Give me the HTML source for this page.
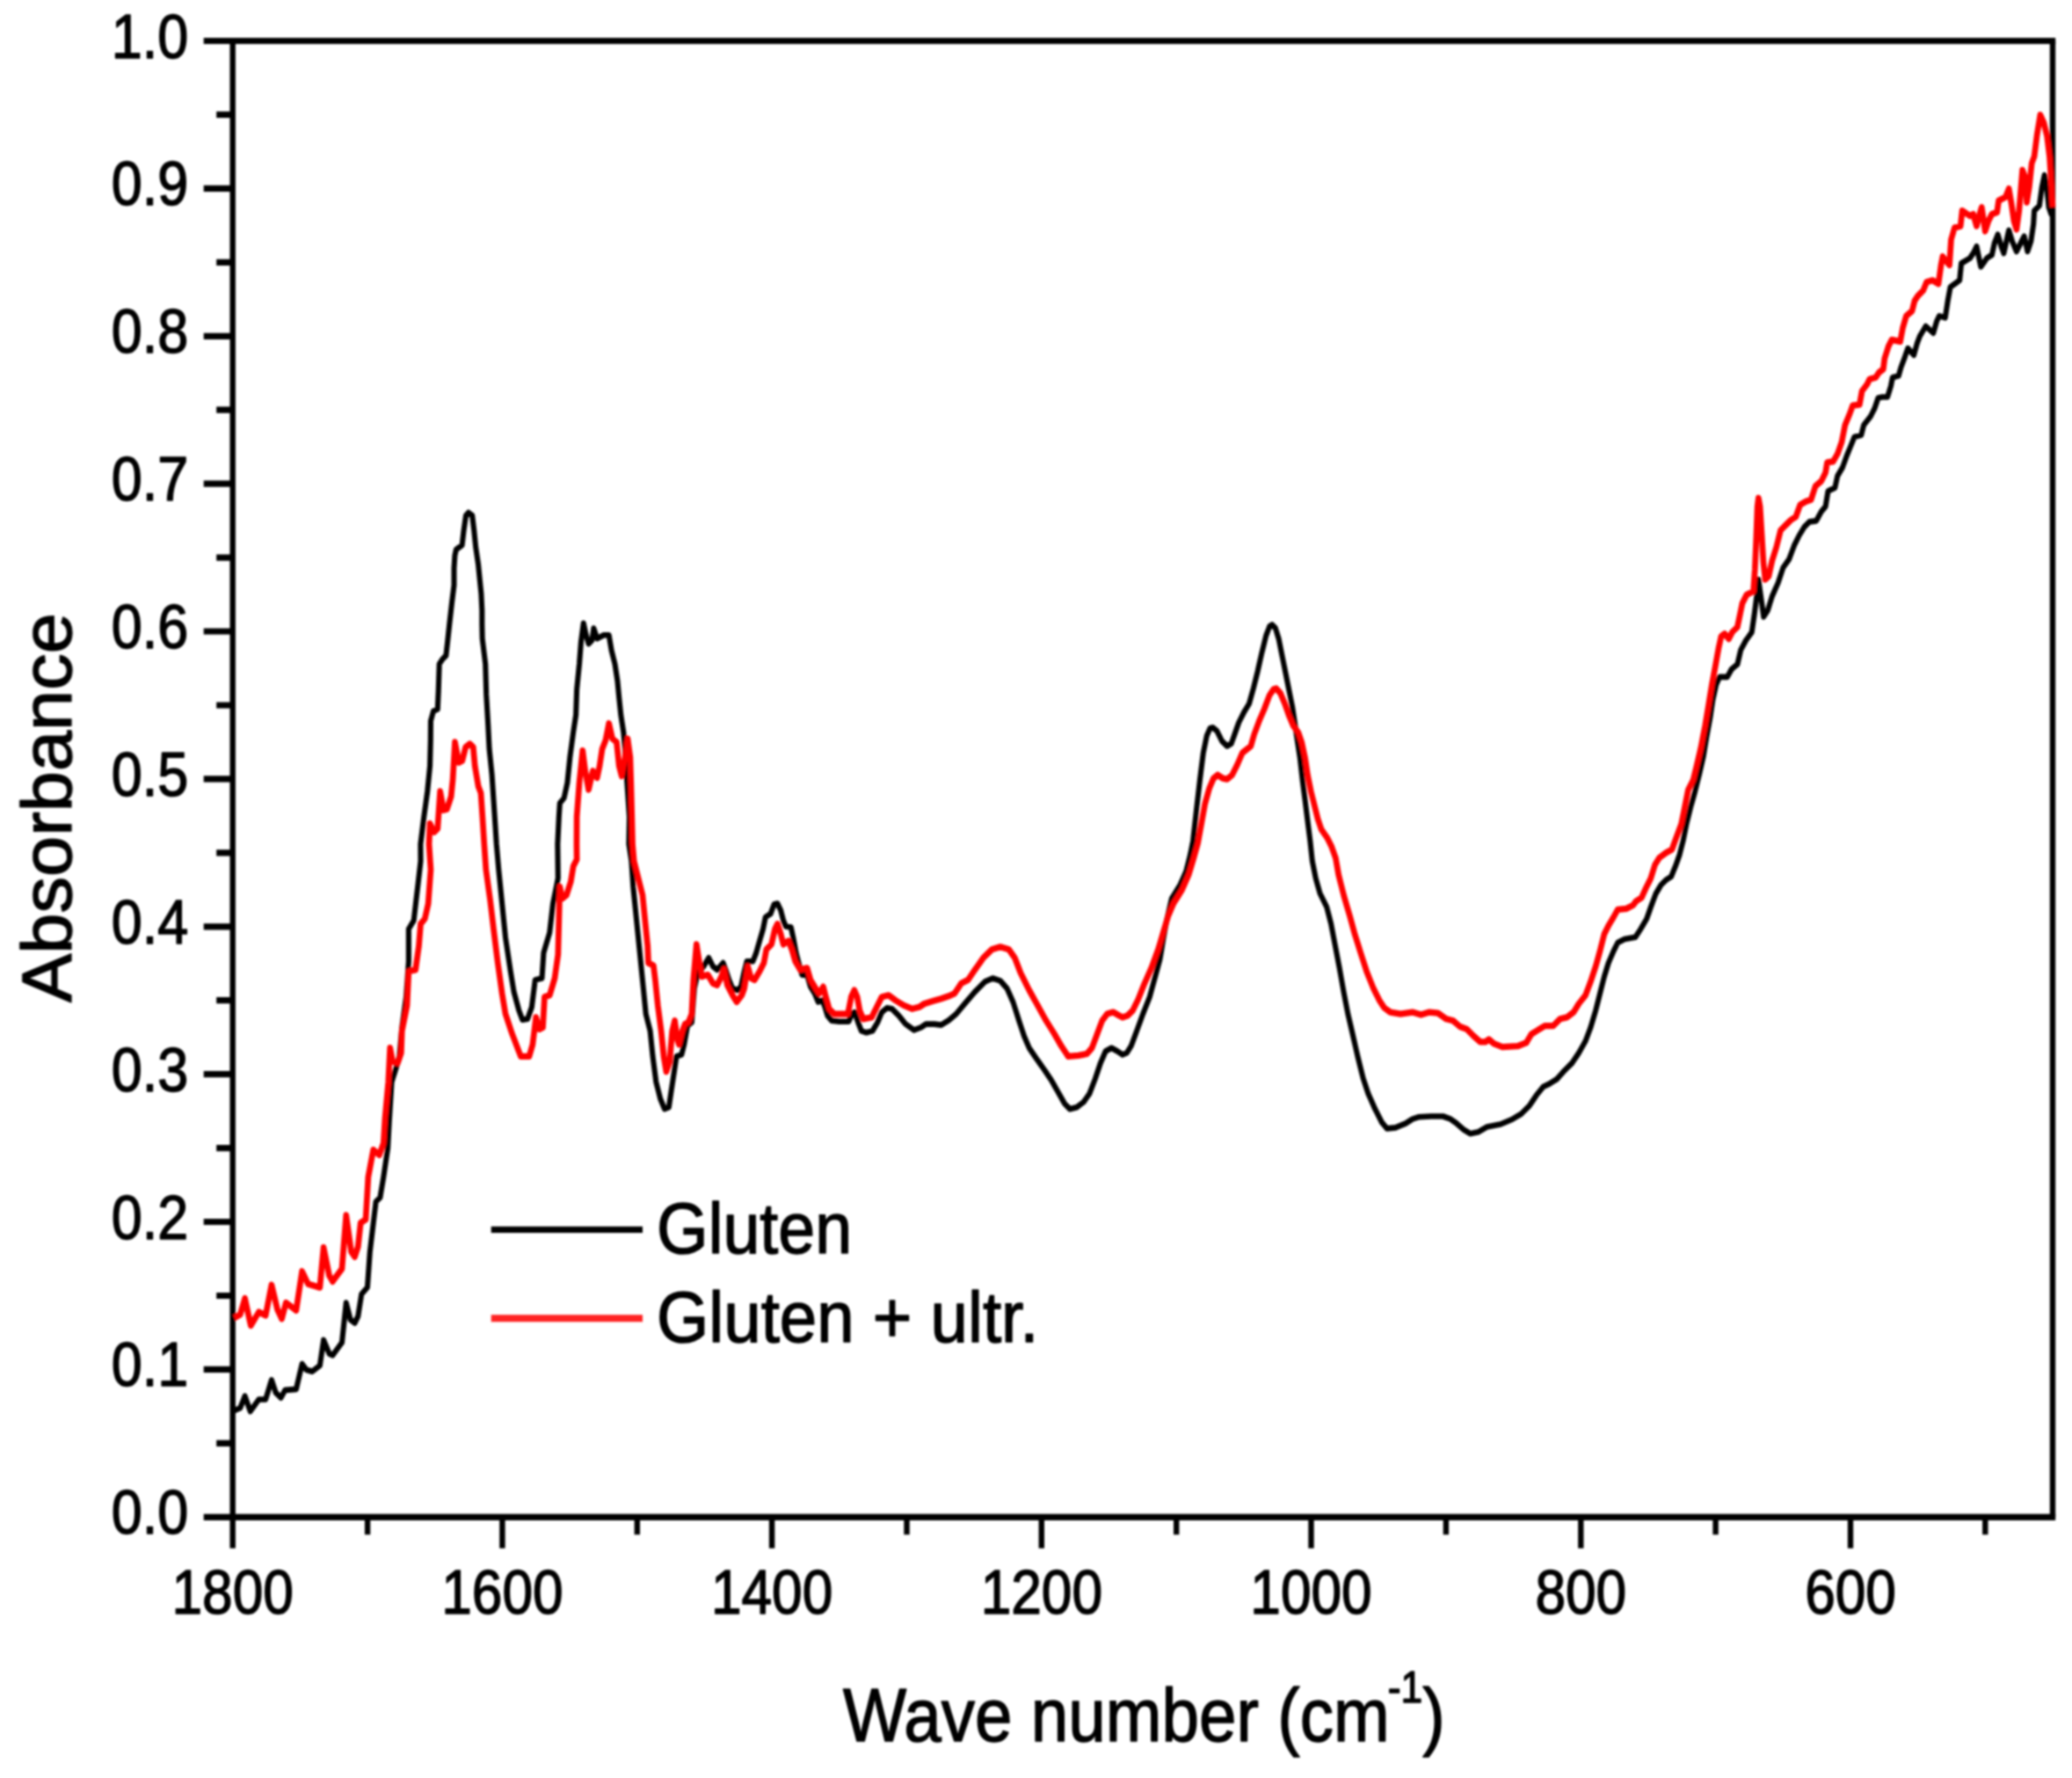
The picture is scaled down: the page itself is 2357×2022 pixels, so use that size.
<!DOCTYPE html>
<html><head><meta charset="utf-8"><title>FTIR absorbance spectra</title>
<style>
html,body{margin:0;padding:0;background:#fff;}
svg{display:block;}
text{font-family:"Liberation Sans",sans-serif;fill:#000;stroke:#000;stroke-width:1.5px;stroke-linejoin:round;}
</style></head><body>
<svg width="2357" height="2022" viewBox="0 0 2357 2022">
<defs><filter id="soft" x="0" y="0" width="2357" height="2022" filterUnits="userSpaceOnUse"><feGaussianBlur stdDeviation="0.9"/></filter></defs>
<rect width="2357" height="2022" fill="#fff"/>
<g filter="url(#soft)">

<g stroke="#000" fill="none" stroke-linecap="butt">
<path d="M231.7,46.5 H2338.2 M231.7,1725.3 H2338.2 M231.7,1557.4 H264.7 M231.7,1389.5 H264.7 M231.7,1221.7 H264.7 M231.7,1053.8 H264.7 M231.7,885.9 H264.7 M231.7,718.0 H264.7 M231.7,550.1 H264.7 M231.7,382.3 H264.7 M231.7,214.4 H264.7 M246.2,1641.4 H264.7 M246.2,1473.5 H264.7 M246.2,1305.6 H264.7 M246.2,1137.7 H264.7 M246.2,969.8 H264.7 M246.2,802.0 H264.7 M246.2,634.1 H264.7 M246.2,466.2 H264.7 M246.2,298.3 H264.7 M246.2,130.4 H264.7" stroke-width="7.2"/>
<path d="M2335.0,46.5 V1725.3 M264.7,46.5 V1760.8 M571.4,1725.3 V1760.8 M878.1,1725.3 V1760.8 M1184.8,1725.3 V1760.8 M1491.5,1725.3 V1760.8 M1798.3,1725.3 V1760.8 M2105.0,1725.3 V1760.8 M418.1,1725.3 V1745.3 M724.8,1725.3 V1745.3 M1031.5,1725.3 V1745.3 M1338.2,1725.3 V1745.3 M1644.9,1725.3 V1745.3 M1951.6,1725.3 V1745.3 M2258.3,1725.3 V1745.3" stroke-width="6.4"/>
</g>
<g fill="none" stroke-linejoin="round" stroke-linecap="butt" transform="scale(0.92,1)">
<path d="M289.6,1604.1 L297.0,1601.2 L302.8,1587.6 L309.5,1605.0 L320.0,1591.5 L328.4,1591.5 L335.8,1569.3 L341.0,1583.8 L347.3,1589.6 L352.5,1580.9 L366.2,1579.9 L373.5,1551.0 L378.8,1557.7 L386.1,1559.7 L395.5,1552.9 L400.1,1523.9 L407.1,1539.4 L411.3,1541.3 L422.8,1526.8 L428.0,1481.5 L433.3,1500.8 L438.6,1504.6 L442.7,1496.9 L447.0,1471.8 L454.3,1464.1 L457.4,1423.6 L464.8,1366.6 L470.0,1361.8 L474.2,1338.6 L479.5,1305.8 L481.2,1276.6 L484.3,1230.3 L489.7,1214.8 L493.8,1201.3 L497.0,1168.5 L502.2,1133.7 L505.3,1093.2 L505.3,1056.5 L511.6,1046.9 L517.0,1004.4 L520.1,979.3 L520.0,960.0 L524.2,928.9 L528.5,899.9 L531.6,871.0 L532.4,842.0 L532.6,819.8 L535.8,808.8 L541.1,806.5 L542.1,786.0 L543.2,755.1 L547.4,749.3 L551.5,745.5 L553.6,728.1 L555.7,710.0 L558.8,684.8 L561.4,665.5 L561.4,646.2 L562.4,631.7 L564.0,624.9 L571.3,620.1 L573.5,602.7 L576.1,586.3 L579.2,583.0 L583.9,586.3 L586.1,602.7 L588.2,622.0 L591.3,641.4 L593.4,660.7 L595.0,675.1 L596.0,694.4 L596.0,710.0 L596.4,726.2 L600.2,755.1 L601.3,789.9 L603.4,822.7 L605.0,851.7 L608.2,880.6 L610.3,909.6 L612.4,938.5 L613.9,960.0 L616.6,989.0 L620.8,1027.6 L625.0,1066.2 L631.3,1104.8 L635.4,1128.0 L641.7,1149.2 L646.0,1159.8 L652.3,1158.8 L657.5,1145.3 L661.7,1114.4 L670.1,1112.5 L672.2,1083.6 L679.6,1060.4 L683.7,1027.6 L690.0,998.6 L689.5,960.0 L691.1,928.9 L692.2,913.4 L697.4,907.6 L701.5,890.3 L704.7,861.3 L708.9,832.4 L712.1,813.1 L713.2,784.1 L716.3,755.1 L718.4,730.0 L721.5,708.8 L724.7,722.3 L727.8,732.0 L732.0,728.1 L734.1,714.6 L738.3,726.2 L746.6,722.3 L752.9,722.3 L756.1,739.7 L760.3,755.1 L763.5,774.4 L765.5,793.7 L767.7,813.1 L770.9,832.4 L772.9,851.7 L773.9,871.0 L776.1,899.9 L778.2,928.9 L777.6,960.0 L780.8,979.3 L782.9,1008.3 L787.1,1046.9 L791.3,1085.5 L795.5,1124.1 L798.6,1153.1 L803.9,1172.4 L807.1,1201.3 L811.2,1230.3 L816.5,1249.6 L821.7,1261.2 L827.0,1259.2 L830.1,1239.9 L833.3,1220.6 L836.4,1201.3 L842.7,1199.4 L845.9,1187.8 L850.0,1166.6 L855.3,1162.7 L858.5,1124.1 L862.6,1106.7 L870.0,1099.0 L876.3,1089.3 L881.5,1099.0 L886.7,1102.9 L894.1,1095.1 L897.3,1102.9 L901.4,1114.4 L905.7,1124.1 L912.0,1126.0 L916.2,1122.2 L920.3,1104.8 L923.5,1093.2 L930.9,1093.2 L935.0,1083.6 L939.2,1070.0 L943.5,1056.5 L946.5,1043.0 L952.8,1039.2 L957.1,1028.5 L961.3,1027.6 L965.4,1035.3 L968.6,1046.9 L971.7,1053.6 L978.0,1054.6 L981.2,1068.1 L984.3,1083.6 L987.5,1095.1 L991.7,1108.6 L997.9,1108.6 L1002.2,1122.2 L1007.4,1129.9 L1011.6,1139.5 L1016.8,1137.6 L1020.0,1145.3 L1023.2,1155.0 L1028.4,1160.8 L1037.8,1161.7 L1049.3,1161.7 L1053.6,1153.1 L1056.7,1151.1 L1061.0,1162.7 L1065.1,1172.4 L1071.4,1174.3 L1078.8,1172.4 L1085.1,1162.7 L1090.3,1151.1 L1096.6,1146.3 L1102.9,1147.3 L1111.3,1155.0 L1119.7,1164.6 L1130.2,1171.4 L1138.6,1168.5 L1144.9,1164.6 L1155.3,1164.6 L1163.8,1165.6 L1173.0,1160.3 L1182.3,1153.1 L1192.8,1141.5 L1205.4,1128.0 L1217.9,1116.4 L1227.4,1112.5 L1236.8,1115.4 L1245.2,1124.1 L1252.6,1139.5 L1260.0,1160.8 L1266.2,1178.1 L1272.5,1191.7 L1281.0,1203.2 L1291.4,1216.8 L1299.8,1228.3 L1308.3,1241.9 L1316.6,1255.4 L1322.9,1261.2 L1331.3,1259.2 L1339.7,1253.4 L1347.1,1243.8 L1354.3,1226.4 L1360.7,1209.0 L1367.0,1195.5 L1374.3,1191.7 L1381.6,1195.5 L1387.9,1199.4 L1393.2,1197.5 L1398.5,1189.7 L1404.8,1174.3 L1413.2,1153.1 L1421.5,1133.7 L1427.8,1112.5 L1434.1,1091.3 L1438.3,1068.1 L1442.5,1046.9 L1448.8,1021.8 L1459.2,1006.3 L1466.6,990.9 L1471.8,971.6 L1475.1,956.4 L1479.5,919.9 L1483.6,887.1 L1487.8,856.2 L1492.1,836.9 L1496.2,828.2 L1499.3,827.3 L1504.6,831.1 L1510.9,842.7 L1517.2,848.5 L1522.5,845.6 L1526.6,835.0 L1531.8,821.5 L1538.2,809.9 L1544.5,800.2 L1549.8,782.9 L1555.0,763.6 L1560.2,742.3 L1565.4,723.0 L1569.7,712.4 L1572.8,710.5 L1577.0,714.3 L1581.2,726.9 L1585.4,746.2 L1589.6,765.5 L1593.8,784.8 L1598.0,804.1 L1601.2,823.4 L1604.2,842.7 L1607.4,862.0 L1610.5,887.1 L1613.7,910.3 L1616.8,933.4 L1620.0,956.6 L1622.6,979.3 L1626.8,998.6 L1632.1,1016.0 L1640.4,1031.4 L1645.8,1050.7 L1651.0,1075.8 L1656.2,1100.9 L1661.4,1128.0 L1666.7,1153.1 L1673.0,1178.1 L1679.2,1203.2 L1685.5,1226.4 L1691.8,1243.8 L1700.2,1261.2 L1708.7,1276.6 L1715.0,1283.4 L1725.4,1282.4 L1738.0,1277.6 L1746.4,1272.7 L1754.8,1270.2 L1769.6,1269.5 L1784.2,1269.5 L1793.7,1272.7 L1801.0,1277.6 L1809.3,1284.3 L1817.8,1289.2 L1828.3,1287.2 L1838.8,1281.4 L1855.5,1278.5 L1870.2,1272.7 L1880.8,1266.9 L1891.2,1257.3 L1899.6,1245.7 L1908.0,1236.1 L1916.4,1232.2 L1924.8,1227.4 L1933.2,1218.7 L1943.7,1209.0 L1952.1,1197.5 L1960.4,1183.9 L1966.7,1168.5 L1973.0,1149.2 L1978.3,1129.9 L1983.6,1110.6 L1988.8,1095.1 L1995.1,1081.6 L2000.3,1072.0 L2008.7,1068.1 L2022.0,1065.8 L2028.6,1056.6 L2036.0,1045.0 L2041.2,1031.5 L2047.5,1016.1 L2053.8,1006.4 L2060.1,1000.6 L2066.4,996.8 L2071.6,985.2 L2076.8,971.7 L2081.1,956.2 L2085.3,936.9 L2090.5,917.6 L2095.8,900.2 L2101.0,880.9 L2106.3,859.7 L2110.4,836.5 L2114.7,815.3 L2117.8,796.0 L2122.0,778.6 L2126.2,769.9 L2135.7,769.9 L2140.9,761.2 L2148.3,755.4 L2152.4,739.1 L2158.6,728.5 L2166.0,718.9 L2169.1,699.6 L2172.3,676.4 L2174.3,659.0 L2177.5,680.3 L2180.7,701.5 L2185.9,693.8 L2191.1,678.3 L2198.5,662.9 L2204.8,645.5 L2212.1,635.9 L2218.4,620.4 L2224.7,608.8 L2231.0,599.2 L2237.3,593.4 L2245.7,592.4 L2252.0,581.8 L2257.2,576.0 L2260.3,558.6 L2268.8,554.8 L2272.0,541.3 L2278.2,531.6 L2283.5,518.1 L2288.7,506.5 L2292.9,496.9 L2301.3,494.9 L2304.5,483.4 L2312.8,473.7 L2318.0,464.1 L2322.3,452.5 L2327.5,451.5 L2333.8,451.5 L2338.0,439.0 L2340.1,429.3 L2347.5,427.4 L2350.5,417.7 L2355.3,405.9 L2359.0,396.1 L2366.4,403.8 L2370.5,390.3 L2373.7,382.5 L2381.1,371.0 L2390.5,378.7 L2394.7,365.2 L2397.8,359.4 L2405.2,361.3 L2408.4,342.0 L2411.5,326.6 L2423.0,318.8 L2425.1,299.5 L2435.7,293.7 L2439.8,288.0 L2444.0,280.2 L2449.2,303.4 L2456.6,293.7 L2462.9,289.9 L2466.1,276.4 L2470.2,266.7 L2474.5,280.2 L2477.6,288.0 L2480.8,274.4 L2483.9,261.9 L2488.0,274.4 L2493.4,286.0 L2498.6,276.4 L2502.8,268.6 L2507.0,286.0 L2511.2,274.4 L2514.3,255.1 L2515.3,239.7 L2521.6,233.9 L2524.8,212.7 L2527.9,199.2 L2531.1,216.5 L2533.3,235.8 L2536.3,243.6 L2538.0,243.6" stroke="#000" stroke-width="6.6"/>
<path d="M289.6,1498.8 L297.0,1495.0 L302.8,1476.6 L310.1,1507.5 L320.0,1492.1 L328.4,1495.9 L335.8,1461.2 L343.0,1489.2 L348.4,1499.8 L353.6,1481.5 L366.2,1490.2 L373.5,1445.8 L380.9,1460.2 L395.5,1464.1 L400.1,1418.7 L407.1,1450.6 L411.3,1457.3 L422.8,1442.9 L428.0,1382.0 L434.3,1423.6 L438.6,1429.3 L442.7,1417.8 L445.9,1390.7 L452.2,1386.9 L455.3,1338.6 L461.6,1307.7 L469.0,1313.5 L474.2,1300.0 L476.0,1272.7 L480.2,1230.3 L482.3,1191.7 L485.4,1207.1 L491.7,1209.0 L496.0,1197.5 L497.0,1172.4 L503.3,1143.4 L505.3,1104.8 L513.8,1102.9 L517.9,1075.8 L520.1,1050.7 L525.3,1044.9 L529.5,1027.6 L532.6,989.0 L530.5,960.0 L531.6,936.6 L536.8,946.3 L541.1,942.4 L544.2,899.9 L548.4,921.2 L552.6,920.2 L557.8,905.7 L559.9,886.4 L562.5,843.9 L567.3,867.1 L571.5,865.2 L575.7,849.7 L580.9,845.9 L585.1,849.7 L587.2,871.0 L591.4,894.1 L594.6,901.9 L596.6,928.9 L598.7,960.0 L600.9,989.0 L606.1,1023.7 L610.3,1056.5 L615.5,1095.1 L620.8,1129.9 L625.0,1153.1 L633.4,1176.2 L643.9,1201.3 L654.3,1201.3 L658.6,1187.8 L662.7,1156.9 L667.0,1170.4 L671.2,1168.5 L673.3,1133.7 L679.6,1131.8 L685.9,1112.5 L690.0,1085.5 L692.2,1008.3 L695.3,1021.8 L700.5,1017.9 L705.8,1002.5 L708.9,985.1 L713.2,977.4 L713.0,960.0 L713.2,928.9 L716.3,890.3 L720.4,853.6 L723.6,876.8 L727.8,898.0 L733.0,876.8 L738.3,884.5 L741.4,871.0 L744.6,851.7 L748.8,842.0 L752.9,822.7 L757.2,840.1 L762.4,843.9 L765.5,871.0 L768.7,882.5 L772.9,861.3 L776.1,840.1 L779.2,861.3 L780.2,890.3 L781.3,928.9 L782.1,960.0 L783.9,979.3 L789.2,998.6 L794.5,1017.9 L797.6,1046.9 L800.8,1075.8 L801.7,1095.1 L808.0,1098.0 L810.2,1114.4 L813.4,1143.4 L817.5,1172.4 L820.7,1201.3 L823.8,1218.7 L828.0,1207.1 L831.2,1172.4 L834.3,1160.8 L837.5,1182.0 L839.6,1187.8 L843.8,1172.4 L847.0,1164.6 L851.1,1162.7 L855.3,1153.1 L857.4,1114.4 L861.2,1073.9 L864.8,1095.1 L867.9,1110.6 L875.2,1108.6 L881.5,1118.3 L886.7,1120.2 L892.1,1110.6 L895.2,1101.9 L899.3,1120.2 L905.7,1131.8 L910.9,1139.5 L917.2,1131.8 L920.3,1124.1 L924.6,1099.0 L928.7,1112.5 L932.9,1114.4 L939.2,1104.8 L944.5,1095.1 L947.6,1079.7 L953.9,1073.9 L958.2,1056.5 L961.3,1050.7 L965.4,1062.3 L968.6,1073.9 L974.9,1070.0 L979.1,1079.7 L983.3,1093.2 L989.6,1102.9 L997.9,1100.9 L1002.2,1114.4 L1008.5,1124.1 L1012.7,1129.9 L1017.9,1122.2 L1021.1,1133.7 L1025.2,1147.3 L1031.5,1153.1 L1040.0,1153.1 L1048.4,1153.1 L1052.5,1133.7 L1056.3,1126.0 L1059.9,1133.7 L1063.0,1149.2 L1067.3,1158.8 L1077.7,1156.9 L1084.0,1145.3 L1090.3,1133.7 L1098.7,1131.8 L1107.1,1137.6 L1117.6,1143.4 L1128.0,1147.3 L1136.5,1145.3 L1142.8,1141.5 L1153.3,1138.6 L1163.8,1135.7 L1173.0,1132.8 L1180.2,1129.9 L1188.6,1118.3 L1197.0,1114.4 L1205.4,1102.9 L1215.9,1089.3 L1226.4,1079.7 L1236.8,1076.8 L1247.4,1079.7 L1254.7,1089.3 L1262.1,1106.7 L1272.5,1126.0 L1283.0,1143.4 L1293.5,1160.8 L1304.0,1176.2 L1312.4,1189.7 L1320.8,1201.3 L1333.4,1200.3 L1343.9,1198.4 L1350.2,1191.7 L1356.5,1176.2 L1362.7,1160.8 L1369.0,1153.1 L1376.4,1151.1 L1383.8,1155.0 L1387.9,1156.9 L1394.2,1155.0 L1400.5,1149.2 L1406.8,1137.6 L1415.2,1118.3 L1423.6,1100.9 L1432.1,1079.7 L1438.3,1060.4 L1444.6,1041.1 L1450.9,1027.6 L1461.4,1012.1 L1469.8,994.7 L1476.1,975.4 L1481.0,959.2 L1485.8,935.4 L1489.9,914.1 L1495.2,896.8 L1500.4,885.2 L1505.7,881.3 L1512.0,885.2 L1517.2,886.1 L1523.5,881.3 L1529.8,869.7 L1536.1,856.2 L1546.6,848.5 L1550.8,835.0 L1557.1,819.5 L1563.4,806.0 L1569.7,790.6 L1574.9,783.8 L1578.0,782.9 L1583.3,788.6 L1588.6,800.2 L1593.8,813.7 L1599.0,825.3 L1605.3,833.1 L1609.6,844.6 L1613.7,862.0 L1616.8,881.3 L1621.1,900.6 L1625.3,916.1 L1629.5,931.5 L1633.7,943.1 L1641.0,952.7 L1646.3,962.4 L1651.5,975.9 L1655.1,994.7 L1661.4,1017.9 L1668.8,1041.1 L1675.1,1062.3 L1682.4,1083.6 L1689.8,1104.8 L1698.2,1124.1 L1705.5,1137.6 L1711.8,1146.3 L1719.1,1151.1 L1731.7,1153.1 L1746.4,1151.1 L1757.0,1154.0 L1767.4,1151.1 L1777.9,1152.1 L1788.4,1158.8 L1796.8,1160.8 L1805.2,1167.5 L1813.6,1170.4 L1822.0,1178.1 L1830.3,1184.9 L1836.6,1184.9 L1840.9,1182.0 L1847.2,1186.8 L1857.6,1190.7 L1876.5,1189.7 L1887.1,1185.9 L1893.4,1176.2 L1901.7,1171.4 L1910.1,1166.6 L1920.5,1166.6 L1929.0,1158.8 L1937.4,1156.9 L1945.8,1151.1 L1952.1,1141.5 L1960.4,1131.8 L1966.7,1116.4 L1973.0,1099.0 L1978.3,1081.6 L1983.6,1062.3 L1988.8,1052.7 L1995.1,1043.0 L2000.3,1034.3 L2010.9,1033.4 L2019.2,1029.5 L2022.6,1025.2 L2029.7,1020.9 L2034.9,1010.3 L2041.2,998.7 L2046.4,983.2 L2051.7,975.5 L2060.1,969.7 L2067.4,965.9 L2072.7,952.4 L2079.0,936.9 L2083.2,917.6 L2087.4,898.3 L2093.7,886.7 L2097.8,871.3 L2103.2,850.0 L2108.4,824.9 L2112.6,801.8 L2116.7,778.6 L2121.0,757.4 L2125.0,737.1 L2128.2,723.7 L2132.4,720.8 L2137.6,726.6 L2141.8,718.9 L2148.2,713.1 L2151.3,699.6 L2154.3,686.1 L2159.7,676.4 L2168.0,672.5 L2169.9,647.5 L2171.6,610.8 L2173.0,576.0 L2174.3,566.4 L2176.2,576.0 L2178.4,608.8 L2180.4,639.7 L2182.7,659.0 L2187.0,655.2 L2191.1,637.8 L2196.4,622.4 L2201.6,603.1 L2207.9,597.3 L2214.2,591.5 L2220.5,587.6 L2225.8,574.1 L2233.0,570.2 L2239.3,568.3 L2244.7,552.9 L2252.0,547.1 L2257.2,537.4 L2259.3,525.8 L2266.6,524.9 L2272.0,516.2 L2277.2,502.7 L2281.3,483.4 L2286.6,471.8 L2290.8,461.2 L2299.2,460.2 L2302.3,444.7 L2308.6,437.0 L2311.7,431.2 L2319.1,429.3 L2323.4,423.5 L2328.6,419.7 L2330.2,407.9 L2334.9,394.1 L2339.1,386.4 L2349.6,388.3 L2352.7,372.9 L2357.0,359.4 L2364.2,353.6 L2367.4,342.0 L2371.6,336.2 L2377.9,330.4 L2382.2,320.8 L2389.5,318.8 L2396.8,322.7 L2400.0,301.5 L2402.1,291.8 L2410.4,301.5 L2412.5,272.5 L2416.7,259.0 L2424.1,257.1 L2426.2,239.7 L2435.7,245.5 L2439.8,243.6 L2444.0,257.1 L2448.3,241.6 L2450.3,235.8 L2454.6,262.9 L2458.7,251.3 L2462.9,243.6 L2469.2,241.6 L2471.3,228.1 L2479.7,224.2 L2483.9,214.6 L2487.1,232.0 L2490.2,251.3 L2493.4,260.9 L2496.5,239.7 L2498.6,216.5 L2500.7,193.4 L2503.8,201.1 L2506.0,230.0 L2509.1,212.7 L2512.2,185.6 L2515.3,177.9 L2518.5,154.7 L2522.7,130.6 L2527.0,139.3 L2531.1,154.7 L2534.2,177.9 L2536.3,206.9 L2538.0,235.8" stroke="#ff0000" stroke-width="7.3"/>
</g>
<text transform="translate(214.2,1744.3) scale(0.905,1)" font-size="69.5" text-anchor="end">0.0</text>
<text transform="translate(214.2,1576.4) scale(0.905,1)" font-size="69.5" text-anchor="end">0.1</text>
<text transform="translate(214.2,1408.5) scale(0.905,1)" font-size="69.5" text-anchor="end">0.2</text>
<text transform="translate(214.2,1240.7) scale(0.905,1)" font-size="69.5" text-anchor="end">0.3</text>
<text transform="translate(214.2,1072.8) scale(0.905,1)" font-size="69.5" text-anchor="end">0.4</text>
<text transform="translate(214.2,904.9) scale(0.905,1)" font-size="69.5" text-anchor="end">0.5</text>
<text transform="translate(214.2,737.0) scale(0.905,1)" font-size="69.5" text-anchor="end">0.6</text>
<text transform="translate(214.2,569.1) scale(0.905,1)" font-size="69.5" text-anchor="end">0.7</text>
<text transform="translate(214.2,401.3) scale(0.905,1)" font-size="69.5" text-anchor="end">0.8</text>
<text transform="translate(214.2,233.4) scale(0.905,1)" font-size="69.5" text-anchor="end">0.9</text>
<text transform="translate(214.2,65.5) scale(0.905,1)" font-size="69.5" text-anchor="end">1.0</text>
<text transform="translate(264.7,1834.5) scale(0.895,1)" font-size="69.5" text-anchor="middle">1800</text>
<text transform="translate(571.4,1834.5) scale(0.895,1)" font-size="69.5" text-anchor="middle">1600</text>
<text transform="translate(878.1,1834.5) scale(0.895,1)" font-size="69.5" text-anchor="middle">1400</text>
<text transform="translate(1184.8,1834.5) scale(0.895,1)" font-size="69.5" text-anchor="middle">1200</text>
<text transform="translate(1491.5,1834.5) scale(0.895,1)" font-size="69.5" text-anchor="middle">1000</text>
<text transform="translate(1798.3,1834.5) scale(0.895,1)" font-size="69.5" text-anchor="middle">800</text>
<text transform="translate(2105.0,1834.5) scale(0.895,1)" font-size="69.5" text-anchor="middle">600</text>
<text transform="translate(959,1980) scale(0.889,1)" font-size="86">Wave number (cm<tspan font-size="50" dx="-2" dy="-44">-1</tspan><tspan dy="44" dx="0">)</tspan></text>
<text transform="translate(81,1140) rotate(-90) scale(1,0.95)" font-size="83">Absorbance</text>
<path d="M558.7,1398.4 H731" stroke="#000" stroke-width="7.2" fill="none"/>
<path d="M558.7,1499.2 H731" stroke="#ff2020" stroke-width="8" fill="none"/>
<text transform="translate(747,1425) scale(0.92,1)" font-size="82">Gluten</text>
<text transform="translate(747,1526.2) scale(0.93,1)" font-size="82">Gluten + ultr.</text>
</g>
</svg></body></html>
